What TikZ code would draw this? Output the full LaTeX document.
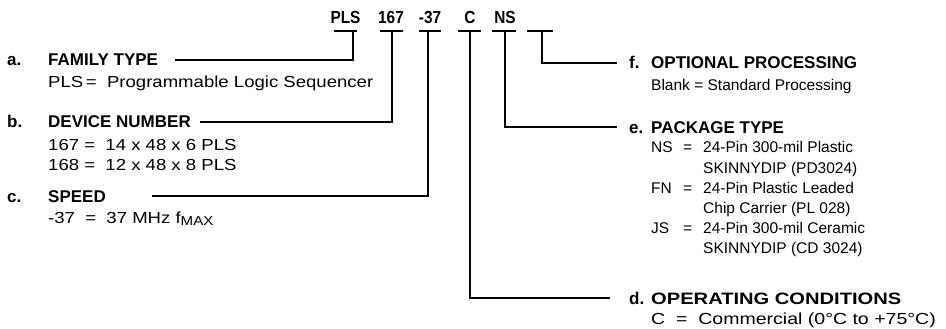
\documentclass[tikz,border=0pt]{standalone}
\usepackage{fontspec}
\usepackage{graphicx}
\setmainfont{Liberation Sans}
\newfontfamily\Lreg[FakeStretch=1.16]{Liberation Sans}
\newfontfamily\Dfam[FakeStretch=1.22]{Liberation Sans}
\newcommand{\codetxt}[1]{\scalebox{0.88}[1]{#1}}
\begin{document}
\begin{tikzpicture}[x=1pt,y=-1pt,
  hd/.style={font=\fontsize{17}{18}\selectfont\bfseries, anchor=base west, inner sep=0pt},
  tx/.style={font=\fontsize{15.5}{18}\selectfont, anchor=base west, inner sep=0pt},
  ltx/.style={font=\fontsize{16}{18}\Lreg, anchor=base west, inner sep=0pt},
  dhd/.style={font=\fontsize{16.5}{18}\Dfam\bfseries, anchor=base west, inner sep=0pt},
  dtx/.style={font=\fontsize{16}{18}\Dfam, anchor=base west, inner sep=0pt},
  code/.style={font=\fontsize{17.5}{18}\selectfont\bfseries, anchor=base, inner sep=0pt},
  ln/.style={line width=1.8pt},
  ul/.style={line width=1.8pt}]
\useasboundingbox (0,0) rectangle (946,329);
% code string
\node[code] (cPLS) at (345.5,24) {\codetxt{PLS}};
\node[code] (c167) at (391,24) {\codetxt{167}};
\node[code] (c37) at (430,24) {\codetxt{-37}};
\node[code] (cC) at (470,24) {\codetxt{C}};
\node[code] (cNS) at (505,24) {\codetxt{NS}};
% underlines
\draw[ul] (334,31) -- (357,31);
\draw[ul] (380,31) -- (403,31);
\draw[ul] (419,31) -- (441,31);
\draw[ul] (458,31) -- (481,31);
\draw[ul] (492,31) -- (516,31);
\draw[ul] (527,31) -- (553,31);
\coordinate (uPLS) at (353,31);
\coordinate (u167) at (392,31);
\coordinate (u37) at (428,31);
\coordinate (uC) at (470,31);
\coordinate (uNS) at (505,31);
\coordinate (uBL) at (542,31);
% left labels
\node[hd] (la) at (7,66) {a.};
\node[hd] (ha) at (48,66) {FAMILY TYPE};
\node[ltx] (ta) at (48,88) {PLS\,=\ \ Programmable Logic Sequencer};
\node[hd] (lb) at (7,128) {b.};
\node[hd] (hb) at (48,128) {DEVICE NUMBER};
\node[ltx] (tb1) at (48,150) {167 =\ \ 14 x 48 x 6 PLS};
\node[ltx] (tb2) at (48,170) {168 =\ \ 12 x 48 x 8 PLS};
\node[hd] (lc) at (7,202) {c.};
\node[hd] (hc) at (48,202) {SPEED};
\node[ltx] (tc) at (48,223) {-37\ \ =\ \ 37 MHz f\raisebox{-0.25ex}{\fontsize{13}{14}\selectfont MAX}};
\coordinate (sa) at (175,60);
\coordinate (sb) at (200,122);
\coordinate (sc) at (152,196);
% right labels
\node[hd] (lf) at (629,69) {f.};
\node[hd] (hf) at (651,69) {OPTIONAL PROCESSING};
\node[tx] (tf) at (651,91) {Blank = Standard Processing};
\node[hd] (le) at (629,133) {e.};
\node[hd] (he) at (651,133) {PACKAGE TYPE};
\node[tx] (ke1) at (651,153) {NS};
\node[tx] (qe1) at (683,153) {=};
\node[tx] (te1) at (703,153) {24-Pin 300-mil Plastic};
\node[tx] (te2) at (703,173) {SKINNYDIP (PD3024)};
\node[tx] (ke3) at (651,193) {FN};
\node[tx] (qe3) at (683,193) {=};
\node[tx] (te3) at (703,193) {24-Pin Plastic Leaded};
\node[tx] (te4) at (703,213) {Chip Carrier (PL 028)};
\node[tx] (ke5) at (651,233) {JS};
\node[tx] (qe5) at (683,233) {=};
\node[tx] (te5) at (703,233) {24-Pin 300-mil Ceramic};
\node[tx] (te6) at (703,253) {SKINNYDIP (CD 3024)};
\node[hd] (ld) at (629,304) {d.};
\node[dhd] (hd) at (651,304) {OPERATING CONDITIONS};
\node[dtx] (td) at (651,324) {C\ \ =\ \ Commercial (0°C to +75°C)};
\coordinate (ef) at (617,63);
\coordinate (ee) at (617,127);
\coordinate (ed) at (610,298);
% connectors
\draw[ln] (uPLS) |- (sa);
\draw[ln] (u167) |- (sb);
\draw[ln] (u37) |- (sc);
\draw[ln] (uBL) |- (ef);
\draw[ln] (uNS) |- (ee);
\draw[ln] (uC) |- (ed);
\end{tikzpicture}
\end{document}
